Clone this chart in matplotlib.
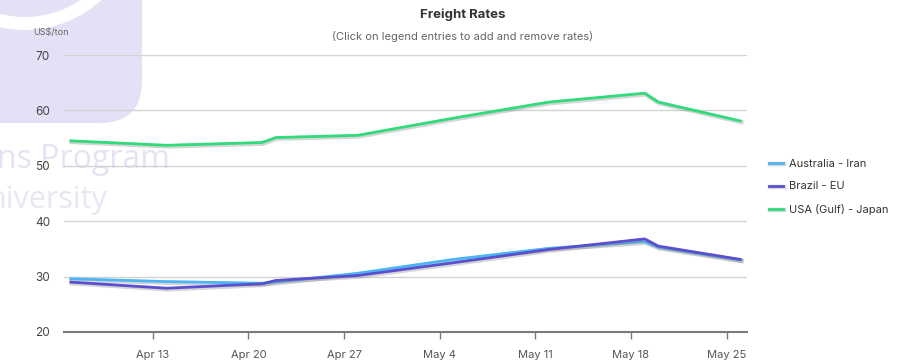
import matplotlib
matplotlib.use('Agg')
import matplotlib.pyplot as plt
import matplotlib.dates as mdates
import matplotlib.patheffects as pe
from matplotlib.patches import FancyBboxPatch, Wedge
from matplotlib.transforms import IdentityTransform
import pandas as pd

plt.rcParams['font.family'] = ['Inter', 'DejaVu Sans']

# datos
fechas = ['2020-04-07', '2020-04-14', '2020-04-21', '2020-04-22', '2020-04-28',
          '2020-05-05', '2020-05-12', '2020-05-19', '2020-05-20', '2020-05-26']
australia_iran = [29.6, 29.1, 28.8, 29.0, 30.6, 33.1, 35.1, 36.3, 35.3, 33.0]
brazil_eu = [29.0, 27.9, 28.7, 29.3, 30.2, 32.5, 34.9, 36.8, 35.5, 33.1]
usa_japan = [54.5, 53.7, 54.2, 55.1, 55.5, 58.6, 61.5, 63.1, 61.5, 58.1]
series = ['Australia - Iran', 'Brazil - EU', 'USA (Gulf) - Japan']
colores = ['#4cb6f4', '#5a4fcf', '#2fdc79']
ticks_x = ['2020-04-13', '2020-04-20', '2020-04-27', '2020-05-04',
           '2020-05-11', '2020-05-18', '2020-05-25']
ticks_y = [20, 30, 40, 50, 60, 70]

fechas = pd.to_datetime(fechas)

W, H = 909, 364
fig = plt.figure(figsize=(W / 100, H / 100), dpi=100)

# marca de agua del fondo (en pixeles)
px = IdentityTransform()
fig.patches.append(FancyBboxPatch((-60, H - 123), 202, 200,
                                  boxstyle='round,pad=0,rounding_size=42',
                                  transform=px, facecolor='#e4e0f6',
                                  edgecolor='none', zorder=-5))
fig.patches.append(Wedge((25, H + 82), 112, 180, 360, width=13, facecolor='white',
                         edgecolor='none', zorder=-4, transform=px))
fig.text(170 / W, 1 - 160 / H, 'ns Program', ha='right', va='center', fontsize=23,
         family=['Open Sans', 'DejaVu Sans'], color='#e6e2f3', zorder=-3)
fig.text(107 / W, 1 - 200 / H, 'niversity', ha='right', va='center', fontsize=22,
         family=['Open Sans', 'DejaVu Sans'], color='#e9e6f4', zorder=-3)

ax = fig.add_axes([64 / W, 1 - 332 / H, (747 - 64) / W, (332 - 55) / H])
ax.patch.set_alpha(0)

sombra = [pe.SimpleLineShadow(offset=(0.8, -0.8), shadow_color='#888888', alpha=0.35, linewidth=3.2),
          pe.Normal()]
for nombre, valores, color in zip(series, [australia_iran, brazil_eu, usa_japan], colores):
    ax.plot(fechas, valores, color=color, lw=2, label=nombre, path_effects=sombra,
            solid_joinstyle='round', zorder=3)

ax.set_ylim(20, 70)
ax.set_yticks(ticks_y)
ax.set_xlim(pd.Timestamp('2020-04-06 12:00'), pd.Timestamp('2020-05-26 12:00'))
ax.set_xticks(pd.to_datetime(ticks_x))
ax.xaxis.set_major_formatter(mdates.DateFormatter('%b %-d'))

ax.grid(axis='y', color='#d3d3d3', lw=1)
ax.set_axisbelow(True)
for s in ['left', 'right', 'top']:
    ax.spines[s].set_visible(False)
ax.spines['bottom'].set_color('#7a7a7a')
ax.spines['bottom'].set_linewidth(1.5)
ax.tick_params(axis='y', length=0, pad=10, labelsize=8.5, labelcolor='#444444')
ax.tick_params(axis='x', length=5, width=1, color='#7a7a7a', pad=8,
               labelsize=8, labelcolor='#555555')

fig.text(33 / W, 1 - 33 / H, 'US$/ton', ha='left', va='center', fontsize=6.5, color='#666666')
fig.text(463 / W, 1 - 15 / H, 'Freight Rates', ha='center', va='center', fontsize=9.5,
         fontweight='bold', color='#333333')
fig.text(463 / W, 1 - 36 / H, '(Click on legend entries to add and remove rates)', ha='center',
         va='center', fontsize=8, color='#666666')

leg = ax.legend(loc='center left', bbox_to_anchor=(763 / W, 1 - 187 / H),
                bbox_transform=fig.transFigure, frameon=False, fontsize=8,
                handlelength=1.3, handletextpad=0.55, labelspacing=1.1, borderpad=0)
for t in leg.get_texts():
    t.set_color('#333333')

fig.savefig('out.png', dpi=100)
